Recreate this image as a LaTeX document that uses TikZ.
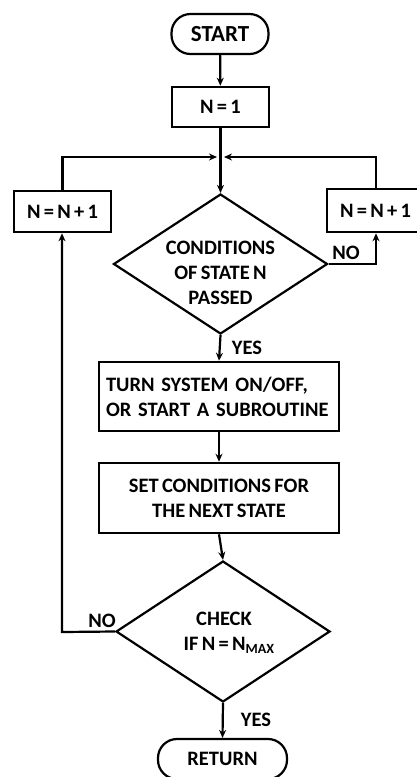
\documentclass[tikz,border=0pt]{standalone}
\usepackage{fontspec}
\setmainfont{Carlito}
\usetikzlibrary{arrows.meta,shapes.geometric}
\newcommand{\mytightsp}{\spaceskip=0.16em plus 0.05em\relax}
\begin{document}
\begin{tikzpicture}[x=1pt,y=-1pt,
  every node/.style={font=\fontsize{20.5}{25}\selectfont\bfseries\mytightsp},
  boxnode/.style={draw,line width=2.6pt,rectangle,inner sep=0pt,align=center},
  termnode/.style={draw,line width=2.2pt,rectangle,rounded corners=19pt,inner sep=0pt,minimum width=97pt,minimum height=40pt},
  decnode/.style={draw,line width=2.2pt,diamond,inner sep=0pt},
  lbl/.style={inner sep=0pt},
  conn/.style={line width=2.2pt,-{Stealth[length=8pt,width=7pt]}},
  plain/.style={line width=2.2pt}]
\useasboundingbox (0,0) rectangle (417,777);
\clip (0,0) rectangle (417,777);

\node[termnode,font=\fontsize{23}{25}\selectfont\bfseries] (start) at (220,34) {START};
\node[boxnode,minimum width=97pt,minimum height=40pt] (n1) at (220.5,107) {N = 1};
\coordinate (join) at (220.5,157);
\coordinate (joinL) at (217,157);
\coordinate (joinR) at (224,157);
\node[boxnode,minimum width=97pt,minimum height=41pt] (L) at (62.5,211.5) {N = N + 1};
\node[boxnode,minimum width=97pt,minimum height=43pt] (R) at (375.5,210.5) {N = N + 1};
\node[decnode,minimum width=214pt,minimum height=140pt] (d1) at (220.5,264) {};
\node[lbl,align=center] (d1t) at (220.5,273) {CONDITIONS\\ OF STATE N\\ PASSED};
\node[boxnode,minimum width=240pt,minimum height=69pt,text width=226pt,align=left] (b3) at (219,396.5) {TURN SYSTEM ON/OFF,\\OR START A SUBROUTINE};
\node[boxnode,minimum width=240pt,minimum height=70pt] (b4) at (219,498) {SET CONDITIONS FOR\\THE NEXT STATE};
\node[decnode,minimum width=214pt,minimum height=141pt] (d2) at (223,631.5) {};
\node[lbl,align=center] (d2t) at (224,633) {CHECK\\ \ \ \ IF N = N\raisebox{-0.35ex}{\fontsize{14}{14}\selectfont MAX}};
\node[termnode,minimum width=129pt] (ret) at (222.5,759) {RETURN};

\coordinate (cR) at (376,264);
\coordinate (cL) at (62,632);

\draw[conn] (start) -- (n1);
\draw[plain] (n1.south) -- (join);
\draw[conn] (L.north) |- (joinL);
\draw[conn] (R.north -| 376,0) |- (joinR);
\draw[conn] (join) -- (d1.north);
\draw[conn] (d1.east) -- (cR) -- (R.south -| cR);
\draw[conn] (d1.south) -- (b3.north);
\draw[conn] (b3.south) -- (b4.north);
\draw[conn] (b4.south) -- (d2.north);
\draw[conn] (d2.west) -- (cL) -- (L.south -| cL);
\draw[conn] (d2.south) -- (ret.north);

\node[lbl] (no1) at (346,253) {NO};
\node[lbl] (yes1) at (247,348) {YES};
\node[lbl] (no2) at (102,621) {NO};
\node[lbl] (yes2) at (256,720) {YES};
\end{tikzpicture}
\end{document}
